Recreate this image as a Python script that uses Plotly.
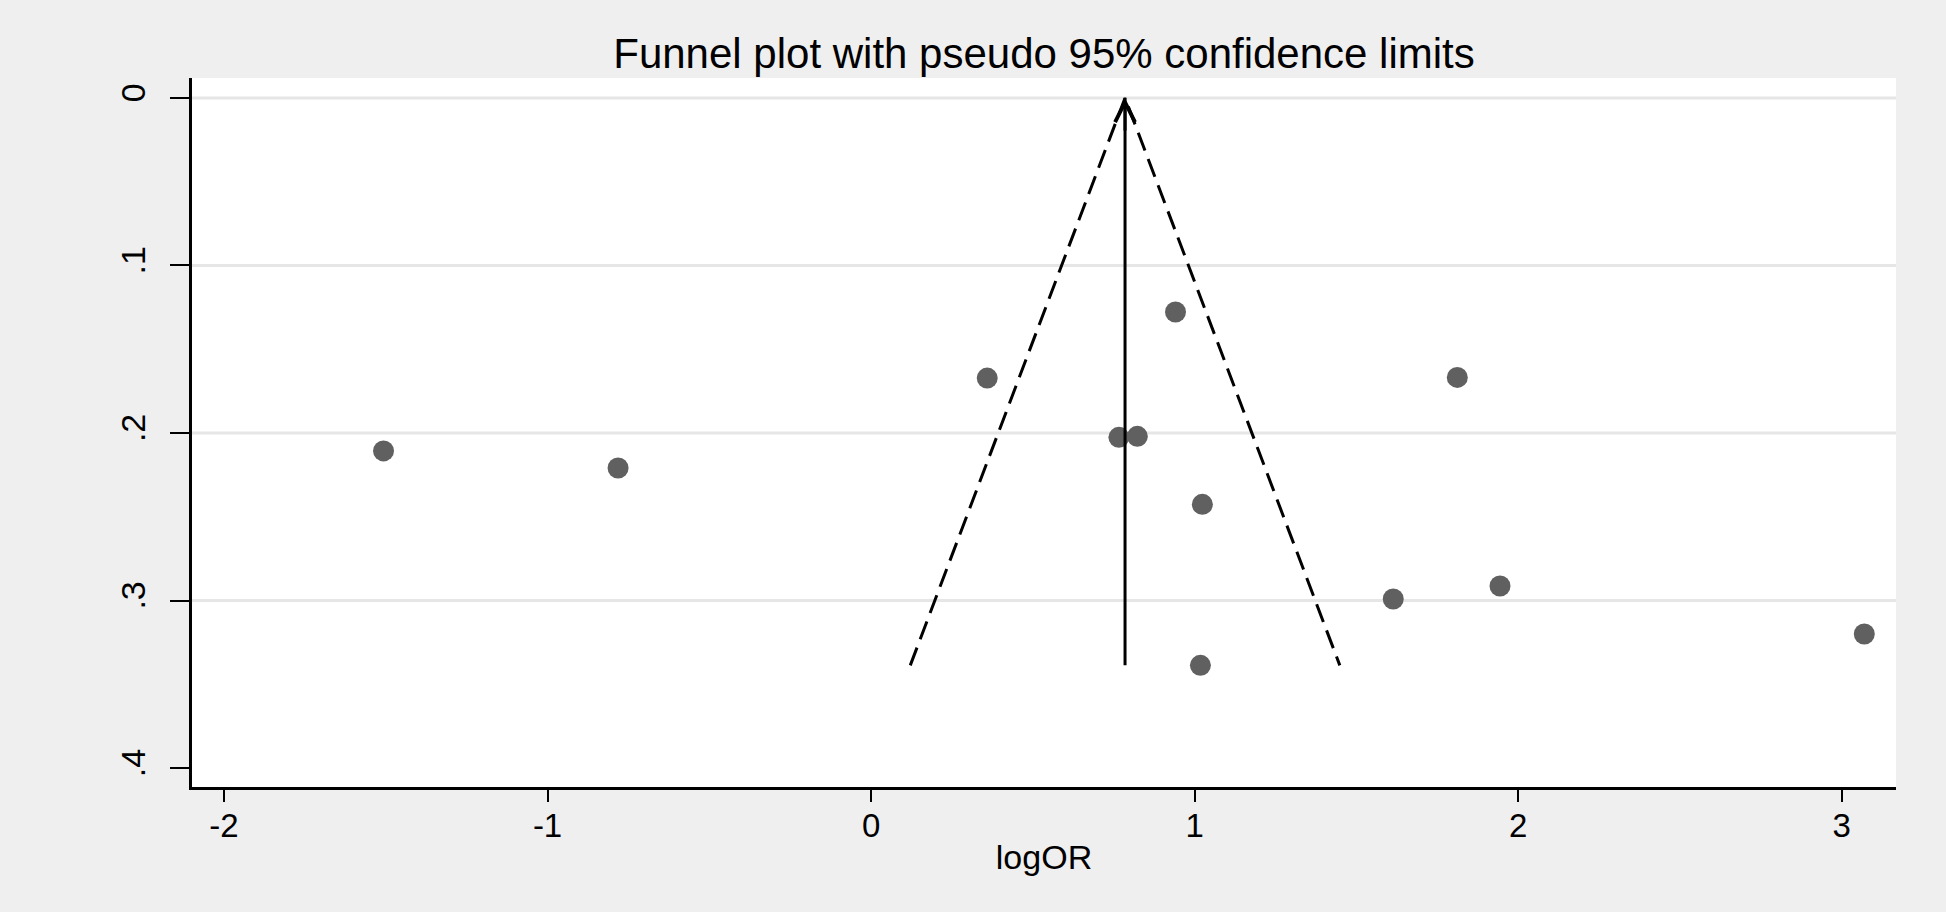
import plotly.graph_objects as go

# ---- data ----
log_or = [-1.507, -0.782, 0.359, 0.941, 0.766, 0.823, 1.024, 1.018, 1.812, 1.614, 1.944, 3.070]
se_log_or = [0.2107, 0.2209, 0.1672, 0.1278, 0.2026, 0.2020, 0.2426, 0.3387, 0.1668, 0.2991, 0.2913, 0.3200]
pooled = 0.785
z95 = 1.96

x_ticks = [-2, -1, 0, 1, 2, 3]
x_tick_text = ["-2", "-1", "0", "1", "2", "3"]
y_ticks = [0, 0.1, 0.2, 0.3, 0.4]
y_tick_text = ["0", ".1", ".2", ".3", ".4"]
y_grid = [0, 0.1, 0.2, 0.3]

max_se = max(se_log_or)
FONT = "Liberation Sans, Arial, sans-serif"

fig = go.Figure()

fig.add_trace(go.Scatter(
    x=log_or, y=se_log_or, mode="markers",
    marker=dict(size=21, color="rgb(96,96,96)", line=dict(width=0)),
    showlegend=False, hoverinfo="x+y"))

# pseudo 95% confidence limits
fig.add_trace(go.Scatter(
    x=[pooled - z95 * max_se, pooled, pooled + z95 * max_se],
    y=[max_se, 0, max_se], mode="lines",
    line=dict(color="black", width=3, dash="19px,9px"),
    showlegend=False, hoverinfo="skip"))

# pooled estimate line
fig.add_trace(go.Scatter(
    x=[pooled, pooled], y=[max_se, 0], mode="lines",
    line=dict(color="black", width=3),
    showlegend=False, hoverinfo="skip"))

# arrowhead at the top of the pooled line
fig.add_annotation(x=pooled, y=0, ax=pooled, ay=max_se * 0.06,
                   axref="x", ayref="y", xref="x", yref="y",
                   text="", showarrow=True, arrowhead=5, arrowsize=1.3,
                   arrowwidth=3, arrowcolor="black", standoff=0)

shapes = [dict(type="line", xref="paper", x0=0, x1=1, yref="y", y0=g, y1=g,
               line=dict(color="rgb(230,230,230)", width=3), layer="below")
          for g in y_grid]

fig.update_layout(
    width=1946, height=912,
    paper_bgcolor="rgb(239,239,239)", plot_bgcolor="white",
    margin=dict(l=192, r=50, t=78, b=125),
    font=dict(family=FONT, color="black"),
    title=dict(text="Funnel plot with pseudo 95% confidence limits",
               font=dict(size=42, family=FONT, color="black"),
               x=0.5, xref="paper", xanchor="center",
               y=1 - 53 / 912, yref="container", yanchor="middle"),
    shapes=shapes,
    xaxis=dict(range=[-2.099, 3.168], tickvals=x_ticks, ticktext=x_tick_text,
               ticks="outside", ticklen=12, tickwidth=2, tickcolor="black",
               showline=True, linewidth=2.5, linecolor="black",
               showgrid=False, zeroline=False, ticklabelstandoff=-4,
               tickfont=dict(size=33, family=FONT),
               title=dict(text="logOR", font=dict(size=34, family=FONT), standoff=2)),
    yaxis=dict(range=[0.4113, -0.0119], tickvals=y_ticks, ticktext=y_tick_text,
               tickangle=-90, ticks="outside", ticklen=19, tickwidth=2, tickcolor="black",
               showline=True, linewidth=2.5, linecolor="black",
               showgrid=False, zeroline=False, ticklabelstandoff=12,
               tickfont=dict(size=34, family=FONT)),
)

fig.write_html("out.html", config={"displayModeBar": False},
               post_script="document.body.style.margin='0';document.body.style.overflow='hidden';")
